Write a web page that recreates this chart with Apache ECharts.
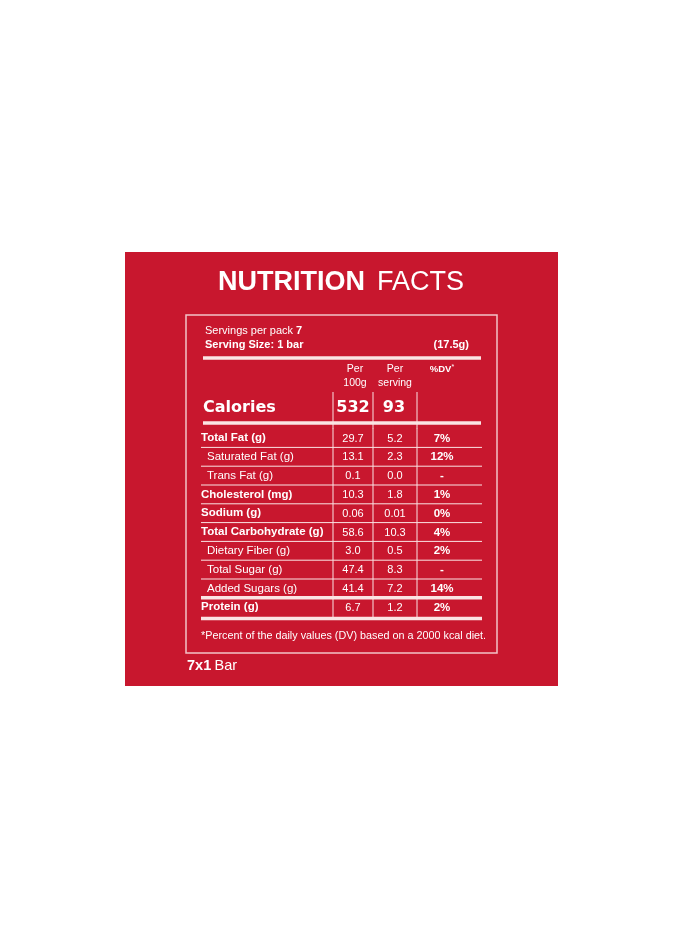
<!DOCTYPE html>
<html><head><meta charset="utf-8">
<script src="https://cdn.jsdelivr.net/npm/echarts/dist/echarts.min.js"></script>
<style>html,body{margin:0;padding:0;background:#fff}#c{width:685px;height:938px}</style>
</head><body><div id="c"></div>
<script>
// ---- data ----
const nutrients = ['Total Fat (g)','Saturated Fat (g)','Trans Fat (g)','Cholesterol (mg)','Sodium (g)','Total Carbohydrate (g)','Dietary Fiber (g)','Total Sugar (g)','Added Sugars (g)','Protein (g)'];
const subNutrients = ['Saturated Fat (g)','Trans Fat (g)','Dietary Fiber (g)','Total Sugar (g)','Added Sugars (g)'];
const per100g = [29.7, 13.1, 0.1, 10.3, 0.06, 58.6, 3.0, 47.4, 41.4, 6.7];
const perServing = [5.2, 2.3, 0.0, 1.8, 0.01, 10.3, 0.5, 8.3, 7.2, 1.2];
const dailyValue = [7, 12, null, 1, 0, 4, 2, null, 14, 2];
const caloriesPer100g = 532;
const caloriesPerServing = 93;
const servingsPerPack = 7;
const servingSize = '1 bar';
const servingWeight = '17.5g';
const columnHeaders = [['Per','100g'], ['Per','serving'], ['%DV','*']];
const footnote = '*Percent of the daily values (DV) based on a 2000 kcal diet.';
const packLabel = ['7x1', 'Bar'];

// ---- layout ----
const RED = '#C8172E';
const LINE = '#FBE4E4';
const BOX = '#F2C4C8';
const F = '"Liberation Sans", Arial, sans-serif';
const FD = '"DejaVu Sans", sans-serif';
const GL = 201, GW = 281;            // grid left / width
const COLC = [152, 194, 241];        // column centres (axis units)
const COLB = [132, 172, 216];        // column borders (axis units)

function fmt(v){ if (v === null) return '-'; return (v !== 0 && v < 0.1) ? v.toFixed(2) : v.toFixed(1); }

const chart = echarts.init(document.getElementById('c'), null, {renderer:'canvas'});

const graphic = [
  {type:'rect', shape:{x:125, y:252, width:433, height:434}, style:{fill:RED}, silent:true, z:-10},
  {type:'rect', shape:{x:186, y:315, width:311, height:338}, style:{fill:null, stroke:BOX, lineWidth:1.5}, silent:true},
  {type:'text', style:{text:'{b|NUTRITION}{r|FACTS}', x:341, y:283, align:'center', verticalAlign:'middle',
    rich:{b:{fill:'#fff', font:'bold 27px '+F}, r:{fill:'#fff', font:'27px '+F, padding:[0,0,0,12]}}}},
  {type:'text', style:{text:'{r|Servings per pack }{b|'+servingsPerPack+'}', x:205, y:331, verticalAlign:'middle',
    rich:{r:{fill:'#fff', font:'11px '+F}, b:{fill:'#fff', font:'bold 11px '+F}}}},
  {type:'text', style:{text:'Serving Size: '+servingSize, x:205, y:345, verticalAlign:'middle', fill:'#fff', font:'bold 11px '+F}},
  {type:'text', style:{text:'('+servingWeight+')', x:469, y:345, align:'right', verticalAlign:'middle', fill:'#fff', font:'bold 11px '+F}},
  {type:'line', shape:{x1:203, y1:358, x2:481, y2:358}, style:{stroke:LINE, lineWidth:3.5}},
  {type:'text', style:{text:columnHeaders[0].join('\n'), x:355, y:376, align:'center', verticalAlign:'middle', fill:'#fff', font:'10.5px '+F, lineHeight:14}},
  {type:'text', style:{text:columnHeaders[1].join('\n'), x:395, y:376, align:'center', verticalAlign:'middle', fill:'#fff', font:'10.5px '+F, lineHeight:14}},
  {type:'text', style:{text:'{b|'+columnHeaders[2][0]+'}{s|'+columnHeaders[2][1]+'}', x:442, y:369, align:'center', verticalAlign:'middle',
    rich:{b:{fill:'#fff', font:'bold 9.5px '+F}, s:{fill:'#fff', font:'7px '+F, verticalAlign:'top'}}}},
  {type:'text', style:{text:'Calories', x:203, y:408, verticalAlign:'middle', fill:'#fff', font:'bold 16px '+FD}},
  {type:'text', style:{text:String(caloriesPer100g), x:353, y:408, align:'center', verticalAlign:'middle', fill:'#fff', font:'bold 16px '+FD}},
  {type:'text', style:{text:String(caloriesPerServing), x:394, y:408, align:'center', verticalAlign:'middle', fill:'#fff', font:'bold 16px '+FD}},
  {type:'line', shape:{x1:GL+COLB[0], y1:392, x2:GL+COLB[0], y2:429}, style:{stroke:LINE, lineWidth:1}},
  {type:'line', shape:{x1:GL+COLB[1], y1:392, x2:GL+COLB[1], y2:429}, style:{stroke:LINE, lineWidth:1}},
  {type:'line', shape:{x1:GL+COLB[2], y1:392, x2:GL+COLB[2], y2:429}, style:{stroke:LINE, lineWidth:1}},
  {type:'line', shape:{x1:203, y1:423, x2:481, y2:423}, style:{stroke:LINE, lineWidth:3.5}, z:10},
  {type:'text', style:{text:footnote, x:201, y:636, verticalAlign:'middle', fill:'#fff', font:'10.8px '+F}},
  {type:'text', style:{text:'{b|'+packLabel[0]+'} {r|'+packLabel[1]+'}', x:187, y:666, verticalAlign:'middle',
    rich:{b:{fill:'#fff', font:'bold 14.5px '+F}, r:{fill:'#fff', font:'14.5px '+F}}}}
];

function renderRow(params, api){
  const i = params.dataIndex;
  const name = nutrients[i];
  const yc = api.coord([0, name])[1];
  const bh = api.size([0, 1])[1];
  const X = v => api.coord([v, name])[0];
  const sub = subNutrients.indexOf(name) >= 0;
  const last = i === nutrients.length - 1;
  const children = [];
  children.push({type:'text', style:{text:name, x:X(sub ? 6 : 0), y:yc, verticalAlign:'middle', fill:'#fff', font:(sub?'':'bold ')+'11.5px '+F}});
  children.push({type:'text', style:{text:fmt(per100g[i]), x:X(COLC[0]), y:yc + 0.5, align:'center', verticalAlign:'middle', fill:'#fff', font:'11px '+F}});
  children.push({type:'text', style:{text:fmt(perServing[i]), x:X(COLC[1]), y:yc + 0.5, align:'center', verticalAlign:'middle', fill:'#fff', font:'11px '+F}});
  children.push({type:'text', style:{text:dailyValue[i] === null ? '-' : dailyValue[i]+'%', x:X(COLC[2]), y:yc + 0.5, align:'center', verticalAlign:'middle', fill:'#fff', font:'bold 11.5px '+F}});
  const top = yc - bh/2, bot = yc + bh/2 + (last ? 2 : 0);
  COLB.forEach(b => children.push({type:'line', shape:{x1:X(b), y1:top, x2:X(b), y2:bot}, style:{stroke:LINE, lineWidth:1}}));
  const thick = (i === nutrients.length - 2) || last;
  children.push({type:'line', shape:{x1:X(0), y1:bot, x2:X(GW), y2:bot}, style:{stroke:LINE, lineWidth: thick ? 3.5 : 1}});
  return {type:'group', children};
}

chart.setOption({
  animation:false,
  graphic,
  grid:{left:GL, top:428.6, width:GW, height:188},
  xAxis:{type:'value', min:0, max:GW, show:false},
  yAxis:{type:'category', data:nutrients, inverse:true, show:false},
  series:[{type:'custom', renderItem:renderRow, silent:true, data:nutrients.map(n => [0, n]), encode:{x:0, y:1}}]
});
</script></body></html>
